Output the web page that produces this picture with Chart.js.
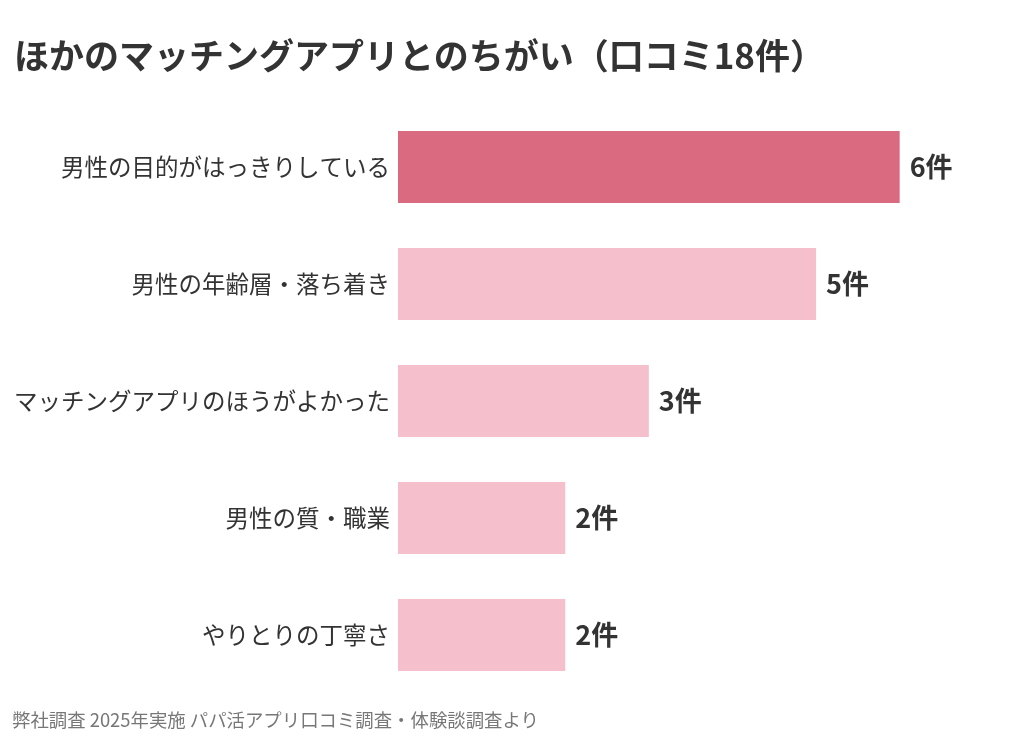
<!DOCTYPE html>
<html lang="ja">
<head>
<meta charset="utf-8">
<script src="https://cdn.jsdelivr.net/npm/chart.js@4"></script>
<style>
  html, body { margin: 0; padding: 0; background: #fff; }
  #wrap { position: relative; width: 1024px; height: 740px; font-family: "Noto Sans CJK JP", "Noto Sans", sans-serif; }
  #title { position: absolute; left: 14px; top: 28px; margin: 0; font-size: 35px; font-weight: bold; color: #333; letter-spacing: 0; white-space: nowrap; }
  #note { position: absolute; left: 12px; top: 706px; font-size: 18.4px; color: #777; white-space: nowrap; }
  #chartBox { position: absolute; left: 0; top: 0; width: 1024px; height: 740px; }
</style>
</head>
<body>
<div id="wrap">
  <div id="chartBox"><canvas id="reviewChart"></canvas></div>
  <h1 id="title">ほかのマッチングアプリとのちがい（口コミ18件）</h1>
  <div id="note">弊社調査 2025年実施 パパ活アプリ口コミ調査・体験談調査より</div>
</div>
<script>
const categories = ['男性の目的がはっきりしている', '男性の年齢層・落ち着き', 'マッチングアプリのほうがよかった', '男性の質・職業', 'やりとりの丁寧さ'];
const counts = [6, 5, 3, 2, 2];
const barColors = ['#DA6A80', '#F5BFCC', '#F5BFCC', '#F5BFCC', '#F5BFCC'];
const unitLabel = '件';

// draws "6件" etc. just right of each bar
const valueLabels = {
    id: 'valueLabels',
    afterDatasetsDraw(chart) {
        const ctx = chart.ctx;
        const meta = chart.getDatasetMeta(0);
        ctx.save();
        ctx.font = 'bold 27px "Noto Sans CJK JP", sans-serif';
        ctx.fillStyle = '#333';
        ctx.textAlign = 'left';
        ctx.textBaseline = 'middle';
        meta.data.forEach(function(bar, i) {
            ctx.fillText(counts[i] + unitLabel, bar.x + 10, bar.y);
        });
        ctx.restore();
    }
};

function createChart() {
    const ctx = document.getElementById('reviewChart').getContext('2d');
    new Chart(ctx, {
        type: 'bar',
        data: {
            labels: categories,
            datasets: [{
                data: counts,
                backgroundColor: barColors,
                borderWidth: 0,
                barPercentage: 0.615,
                categoryPercentage: 1
            }]
        },
        options: {
            indexAxis: 'y',
            responsive: false,
            animation: false,
            layout: { padding: { top: 108.5, bottom: 46.5, left: 0, right: 24 } },
            scales: {
                x: {
                    min: 0,
                    max: 7.2,
                    display: false
                },
                y: {
                    grid: { display: false },
                    border: { display: false },
                    ticks: {
                        color: '#333',
                        padding: 0,
                        font: { family: '"Noto Sans CJK JP", sans-serif', size: 23.5 }
                    },
                    afterFit: function(scale) { scale.width = 398; }
                }
            },
            plugins: {
                legend: { display: false },
                tooltip: { enabled: false }
            }
        },
        plugins: [valueLabels]
    });
}

const cv = document.getElementById('reviewChart');
cv.width = 1024;
cv.height = 740;
createChart();
</script>
</body>
</html>
